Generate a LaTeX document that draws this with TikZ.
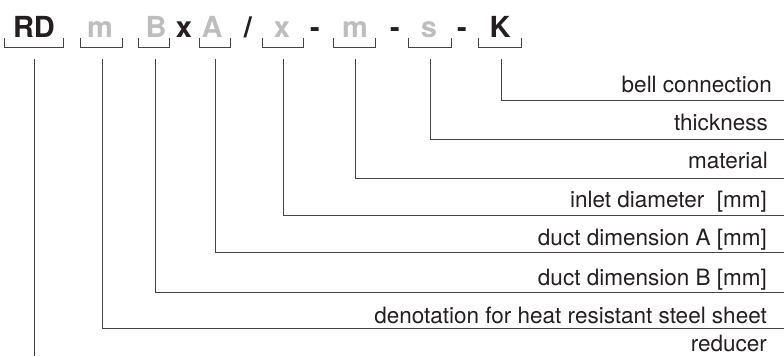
\documentclass[tikz,border=0pt]{standalone}
\usepackage{fontspec}
\setmainfont{TeX Gyre Heros}
\definecolor{codegray}{HTML}{BDBDBD}
\definecolor{ink}{HTML}{231F20}
\definecolor{wire}{HTML}{444444}
\begin{document}
\begin{tikzpicture}[x=1pt,y=-1pt,
  code/.style={anchor=base,inner sep=0pt,font=\fontsize{29}{34}\selectfont\bfseries},
  blk/.style={code,text=ink},
  gry/.style={code,text=codegray},
  lab/.style={anchor=base east,inner sep=0pt,text=ink,font=\fontsize{22.5}{27}\selectfont},
  wirel/.style={draw=wire,line width=1pt},
  brk/.style={draw=wire,line width=1pt}]
\useasboundingbox (0,0) rectangle (784,356);
% code letters
\node[blk] (rd) at (34,37) {RD};
\node[gry] (cm) at (100,37) {m};
\node[gry] (cb) at (156,37) {B};
\node[blk] (cx) at (184,37) {x};
\node[gry] (ca) at (212,37) {A};
\node[blk] (sl) at (248,37) {/};
\node[gry] (cd) at (282,37) {x};
\node[blk] (h1) at (315,37) {-};
\node[gry] (cmat) at (355,37) {m};
\node[blk] (h2) at (395,37) {-};
\node[gry] (cs) at (429,37) {s};
\node[blk] (h3) at (462,37) {-};
\node[blk] (ck) at (500,37) {K};
% brackets
\foreach \l/\r in {4/63,80/122,138/169,199/230,262/303,333/375,408/451,478/521}
  \draw[brk] (\l,38) -- (\l,47) -- (\r,47) -- (\r,38);
% labels
\node[lab] (lk) at (772,92) {bell connection};
\node[lab] (ls) at (768,130) {thickness};
\node[lab] (lm) at (768,168) {material};
\node[lab] (ld) at (767,207) {inlet diameter\ \ [mm]};
\node[lab] (la) at (767,245) {duct dimension A [mm]};
\node[lab] (lb) at (767,285) {duct dimension B [mm]};
\node[lab] (lh) at (767,323) {denotation for heat resistant steel sheet};
\node[lab] (lr) at (767,351) {reducer};
% connector ends
\coordinate (tk) at (501,59);   \coordinate (ek) at (784,100);
\coordinate (ts) at (430,59);   \coordinate (es) at (784,139);
\coordinate (tm) at (355,59);   \coordinate (em) at (784,178);
\coordinate (td) at (283,59);   \coordinate (ed) at (784,215);
\coordinate (ta) at (215,59);   \coordinate (ea) at (784,252);
\coordinate (tb) at (155,59);   \coordinate (eb) at (784,292);
\coordinate (th) at (102,59);   \coordinate (eh) at (784,328);
\coordinate (tr) at (34,59);    \coordinate (er) at (34,356);
\draw[wirel] (tk) |- (ek);
\draw[wirel] (ts) |- (es);
\draw[wirel] (tm) |- (em);
\draw[wirel] (td) |- (ed);
\draw[wirel] (ta) |- (ea);
\draw[wirel] (tb) |- (eb);
\draw[wirel] (th) |- (eh);
\draw[wirel] (tr) -- (er);
\end{tikzpicture}
\end{document}
